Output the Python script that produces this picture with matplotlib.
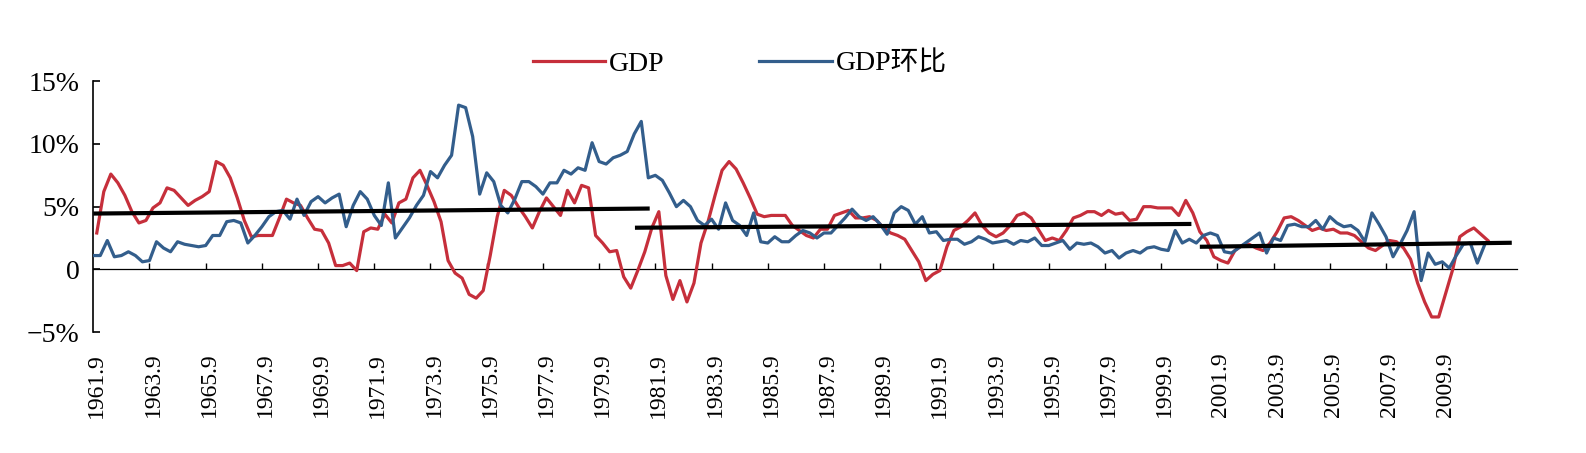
import numpy as np
import matplotlib
matplotlib.use("Agg")
import matplotlib.pyplot as plt

plt.rcParams['font.family'] = ['Liberation Serif', 'Noto Sans CJK SC']

# quarterly, first point = 1961.9
gdp = [2.9, 6.2, 7.6, 6.9, 5.9, 4.6, 3.7, 3.9, 4.9, 5.3,
       6.5, 6.3, 5.7, 5.1, 5.5, 5.8, 6.2, 8.6, 8.3, 7.3,
       5.7, 3.9, 2.6, 2.7, 2.7, 2.7, 4.1, 5.6, 5.3, 5.1,
       4.1, 3.2, 3.1, 2.1, 0.3, 0.3, 0.5, -0.1, 3.0, 3.3,
       3.2, 4.4, 3.7, 5.3, 5.6, 7.3, 7.9, 6.7, 5.4, 3.8,
       0.7, -0.3, -0.7, -2.0, -2.3, -1.7, 1.1, 4.2, 6.3, 5.9,
       5.0, 4.2, 3.3, 4.6, 5.7, 5.0, 4.3, 6.3, 5.3, 6.7,
       6.5, 2.7, 2.1, 1.4, 1.5, -0.6, -1.5, -0.1, 1.4, 3.3,
       4.6, -0.5, -2.4, -0.9, -2.6, -1.1, 2.1, 3.8, 5.9, 7.9,
       8.6, 8.0, 6.9, 5.7, 4.4, 4.2, 4.3, 4.3, 4.3, 3.5,
       3.1, 2.7, 2.5, 3.2, 3.2, 4.3, 4.5, 4.7, 4.1, 4.1,
       4.2, 3.9, 3.3, 2.9, 2.7, 2.4, 1.5, 0.6, -0.9, -0.4,
       -0.1, 1.8, 3.1, 3.4, 3.9, 4.5, 3.5, 2.9, 2.6, 2.9,
       3.5, 4.3, 4.5, 4.1, 3.2, 2.3, 2.5, 2.3, 3.1, 4.1,
       4.3, 4.6, 4.6, 4.3, 4.7, 4.4, 4.5, 3.9, 4.0, 5.0,
       5.0, 4.9, 4.9, 4.9, 4.3, 5.5, 4.5, 3.0, 2.3, 1.0,
       0.7, 0.5, 1.5, 1.9, 2.0, 1.7, 1.5, 2.1, 3.0, 4.1,
       4.2, 3.9, 3.5, 3.1, 3.3, 3.1, 3.2, 2.9, 2.9, 2.7,
       2.2, 1.7, 1.5, 1.9, 2.3, 2.2, 1.7, 0.8, -1.1, -2.6,
       -3.8, -3.8, -1.9, 0.0, 2.6, 3.0, 3.3, 2.8, 2.3]

gdp_qoq = [1.1, 1.1, 2.3, 1.0, 1.1, 1.4, 1.1, 0.6, 0.7, 2.2,
           1.7, 1.4, 2.2, 2.0, 1.9, 1.8, 1.9, 2.7, 2.7, 3.8,
           3.9, 3.7, 2.1, 2.7, 3.4, 4.2, 4.6, 4.7, 4.0, 5.6,
           4.3, 5.4, 5.8, 5.3, 5.7, 6.0, 3.4, 5.1, 6.2, 5.6,
           4.3, 3.5, 6.9, 2.5, 3.3, 4.1, 5.1, 5.9, 7.8, 7.3,
           8.3, 9.1, 13.1, 12.9, 10.6, 6.0, 7.7, 7.0, 5.1, 4.5,
           5.6, 7.0, 7.0, 6.6, 6.0, 6.9, 6.9, 7.9, 7.6, 8.1,
           7.9, 10.1, 8.6, 8.4, 8.9, 9.1, 9.4, 10.8, 11.8, 7.3,
           7.5, 7.1, 6.1, 5.0, 5.5, 5.0, 3.9, 3.5, 4.0, 3.2,
           5.3, 3.9, 3.5, 2.7, 4.5, 2.2, 2.1, 2.6, 2.2, 2.2,
           2.7, 3.1, 2.9, 2.5, 2.9, 2.9, 3.5, 4.1, 4.8, 4.2,
           3.9, 4.2, 3.6, 2.8, 4.5, 5.0, 4.7, 3.6, 4.2, 2.9,
           3.0, 2.3, 2.4, 2.4, 2.0, 2.2, 2.6, 2.4, 2.1, 2.2,
           2.3, 2.0, 2.3, 2.2, 2.5, 1.9, 1.9, 2.1, 2.3, 1.6,
           2.1, 2.0, 2.1, 1.8, 1.3, 1.5, 0.9, 1.3, 1.5, 1.3,
           1.7, 1.8, 1.6, 1.5, 3.1, 2.1, 2.4, 2.1, 2.7, 2.9,
           2.7, 1.4, 1.3, 1.7, 2.1, 2.5, 2.9, 1.3, 2.5, 2.3,
           3.5, 3.6, 3.4, 3.4, 3.9, 3.2, 4.2, 3.7, 3.4, 3.5,
           3.1, 2.2, 4.5, 3.6, 2.6, 1.0, 2.0, 3.1, 4.6, -0.9,
           1.3, 0.4, 0.6, 0.1, 1.1, 2.0, 2.1, 0.5, 1.9]

# period trend lines (category units, values in %)
trend_x0 = [-0.5, 76.6, 157.0]
trend_x1 = [78.7, 155.8, 201.4]
trend_y0 = [4.45, 3.32, 1.80]
trend_y1 = [4.85, 3.62, 2.12]

tick_labels = [f"{y}.9" for y in range(1961, 2011, 2)]
n_cats = 203

x_gdp = np.arange(len(gdp))
x_qoq = np.arange(len(gdp_qoq)) - 0.5

fig = plt.figure(figsize=(15.86, 4.53), dpi=100)
ax = fig.add_axes([0.0588, 0.2671, 0.8975, 0.5534])

l1, = ax.plot(x_gdp, gdp, color='#C62F3B', lw=2.3, label='GDP', zorder=3)
l2, = ax.plot(x_qoq, gdp_qoq, color='#335E8C', lw=2.3, label='GDP环比', zorder=3)
for a, b, c, d in zip(trend_x0, trend_x1, trend_y0, trend_y1):
    ax.plot([a, b], [c, d], color='black', lw=3, solid_capstyle='butt', zorder=4)

ax.set_xlim(-0.5, n_cats - 0.9)
ax.set_ylim(-5, 15)
ax.set_yticks([-5, 0, 5, 10, 15])
ax.set_yticklabels(['\u22125%', '0', '5%', '10%', '15%'])
ax.tick_params(axis='y', direction='in', length=5, width=1.2, labelsize=20, pad=10)

ax.set_xticks(np.arange(0, len(tick_labels) * 8, 8))
ax.set_xticklabels(tick_labels, rotation=90)
ax.tick_params(axis='x', length=0, labelsize=17, pad=15)

for s in ['top', 'right', 'bottom']:
    ax.spines[s].set_visible(False)
ax.spines['left'].set_linewidth(1.2)

# zero line with small category ticks
sec = ax.secondary_xaxis(0.25)
sec.set_xticks(np.arange(1, 25) * 8 - 0.5)
sec.tick_params(direction='in', length=4, width=1, labelbottom=False, labeltop=False)
sec.spines['bottom'].set_linewidth(0.9)

fig.legend(handles=[l1, l2], loc='center', bbox_to_anchor=(0.4665, 0.859), ncol=2,
           frameon=False, fontsize=20, handlelength=2.6, handletextpad=0.15,
           columnspacing=3.4)

fig.savefig('out.png', dpi=100)
